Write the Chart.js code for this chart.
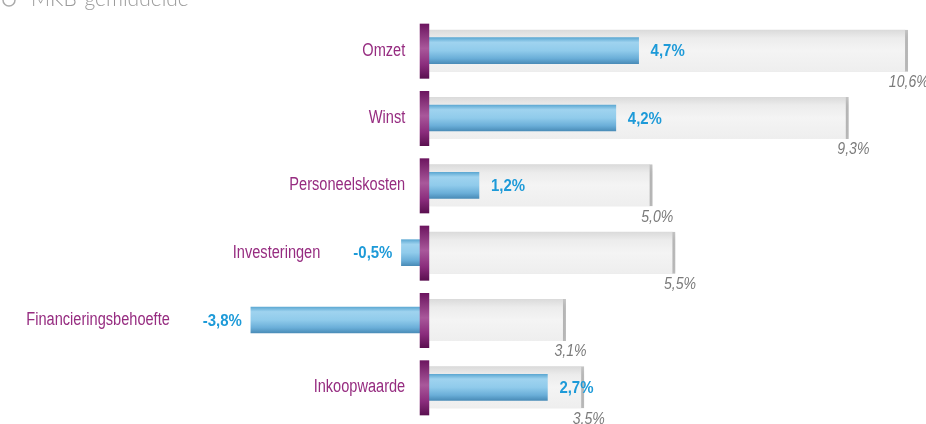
<!DOCTYPE html>
<html lang="nl">
<head>
<meta charset="utf-8">
<title>MKB vergelijking</title>
<script src="https://cdn.jsdelivr.net/npm/chart.js@4.4.1/dist/chart.umd.min.js"></script>
<style>
  html,body{margin:0;padding:0;background:#fff;}
  #wrap{position:relative;width:926px;height:424px;}
</style>
</head>
<body>
<div id="wrap"><canvas id="chart"></canvas></div>
<script>
/* ── Data ── */
const categories=['Omzet','Winst','Personeelskosten','Investeringen','Financieringsbehoefte','Inkoopwaarde'];
const ownValues=[4.7,4.2,1.2,-0.5,-3.8,2.7];
const mkbAverage=[10.6,9.3,5.0,5.5,3.1,3.5];
const legendLabel='MKB-gemiddelde';

const SANS='"Liberation Sans",Arial,sans-serif';
const fmt=v=>v.toFixed(1).replace('.',',')+'%';

/* draw text squeezed horizontally (condensed look) */
function narrowText(ctx,text,x,y,align,sx){
  ctx.save();
  ctx.translate(x,y);
  ctx.scale(sx,1);
  ctx.textAlign=align;
  ctx.fillText(text,0,0);
  ctx.restore();
  return ctx.measureText(text).width*sx;
}

/* ── Gradients ── */
function blueFill(c){
  const chart=c.chart, y=chart.scales.y;
  if(!y||!chart.chartArea)return '#8cc8e8';
  const cy=y.getPixelForValue(c.dataIndex);
  const g=chart.ctx.createLinearGradient(0,cy-13,0,cy+13);
  g.addColorStop(0,'#5ea9d3');
  g.addColorStop(0.18,'#9fd3ef');
  g.addColorStop(0.5,'#90cbeb');
  g.addColorStop(0.8,'#6aaed8');
  g.addColorStop(1,'#4a8cb8');
  return g;
}
function grayFill(c){
  const chart=c.chart, y=chart.scales.y;
  if(!y||!chart.chartArea)return '#efefef';
  const cy=y.getPixelForValue(c.dataIndex);
  const g=chart.ctx.createLinearGradient(0,cy-21,0,cy+21);
  g.addColorStop(0,'#dadada');
  g.addColorStop(0.2,'#ececec');
  g.addColorStop(0.5,'#f4f4f4');
  g.addColorStop(1,'#eeeeee');
  return g;
}

/* ── Shadow under the average bars ── */
const shadowPlugin={
  id:'shadow',
  beforeDatasetDraw(chart,args){
    if(args.index!==1)return;
    const ctx=chart.ctx;
    ctx.save();
    ctx.shadowColor='rgba(0,0,0,0.13)';
    ctx.shadowBlur=8;
    ctx.shadowOffsetX=4;
    ctx.shadowOffsetY=3;
  },
  afterDatasetDraw(chart,args){
    if(args.index!==1)return;
    chart.ctx.restore();
  }
};

/* ── Purple zero markers + labels ── */
const labelPlugin={
  id:'labels',
  afterDatasetsDraw(chart){
    const ctx=chart.ctx, xs=chart.scales.x, ys=chart.scales.y;
    const x0=xs.getPixelForValue(0);
    ctx.save();
    ctx.textBaseline='middle';
    categories.forEach((cat,i)=>{
      const cy=ys.getPixelForValue(i);
      // purple zero bar
      const g=ctx.createLinearGradient(0,cy-27,0,cy+28);
      g.addColorStop(0,'#6c155f');
      g.addColorStop(0.45,'#a9589b');
      g.addColorStop(0.75,'#8a2c7c');
      g.addColorStop(1,'#5a0f4f');
      ctx.fillStyle=g;
      ctx.fillRect(x0-4.5,cy-27,9.5,55);

      const v=ownValues[i];
      const start=xs.getPixelForValue(Math.min(0,v));
      const end=xs.getPixelForValue(Math.max(0,v));
      // value label
      ctx.font='bold 17px '+SANS;
      ctx.fillStyle='#1d9ad8';
      let catRight;
      if(v>=0){
        narrowText(ctx,fmt(v),end+12,cy+1,'left',0.88);
        catRight=x0-19;
      }else{
        const w=narrowText(ctx,fmt(v),start-9,cy+1,'right',0.88);
        catRight=start-9-w-33;
      }
      // category label
      ctx.font='18px '+SANS;
      ctx.fillStyle='#962c80';
      narrowText(ctx,cat,catRight,cy,'right',0.81);
      // average label
      const ae=xs.getPixelForValue(mkbAverage[i]);
      ctx.font='italic 16px '+SANS;
      ctx.fillStyle='#7a7a7a';
      narrowText(ctx,fmt(mkbAverage[i]),ae+21,cy+32,'right',0.88);
    });
    // legend (cut off at the top edge)
    ctx.strokeStyle='#aaaaaa';
    ctx.lineWidth=1.5;
    ctx.beginPath();
    ctx.arc(9,0,6,0,Math.PI*2);
    ctx.stroke();
    ctx.font='300 21px Lato,"Open Sans",sans-serif';
    ctx.fillStyle='#9a9a9a';
    ctx.textAlign='left';
    ctx.textBaseline='alphabetic';
    ctx.fillText(legendLabel,31,6);
    ctx.restore();
  }
};

new Chart(document.getElementById('chart'),{
  type:'bar',
  data:{
    labels:categories,
    datasets:[
      {
        label:'Eigen',
        data:ownValues,
        backgroundColor:blueFill,
        borderWidth:0,
        barThickness:26,
        grouped:false,
        order:0
      },
      {
        label:legendLabel,
        data:mkbAverage,
        backgroundColor:grayFill,
        borderColor:'#c9c9c9',
        borderWidth:{top:0,right:3,bottom:0,left:0},
        borderSkipped:false,
        barThickness:42,
        grouped:false,
        order:1
      }
    ]
  },
  options:{
    indexAxis:'y',
    responsive:true,
    maintainAspectRatio:false,
    animation:false,
    layout:{padding:{top:17,bottom:3,left:0,right:0}},
    plugins:{legend:{display:false},tooltip:{enabled:false}},
    scales:{
      x:{display:false,min:-9.3,max:11},
      y:{display:false}
    }
  },
  plugins:[shadowPlugin,labelPlugin]
});
</script>
</body>
</html>
